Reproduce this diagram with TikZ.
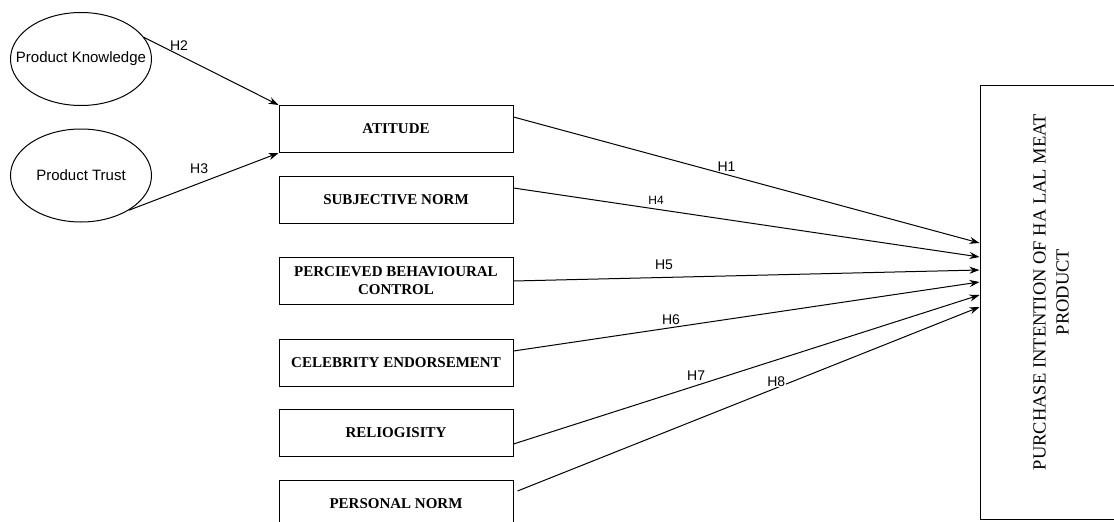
\documentclass[tikz,border=0pt]{standalone}
\usepackage{fontspec}
\setmainfont{Liberation Serif}
\setsansfont{Liberation Sans}
\usetikzlibrary{arrows.meta,calc,shapes.geometric}
\begin{document}
\begin{tikzpicture}[x=1pt,y=-1pt,
  latent/.style={draw, ellipse, line width=1pt, minimum width=141pt, minimum height=93pt, inner sep=0pt},
  latentname/.style={font=\sffamily\fontsize{15}{17}\selectfont, inner sep=0pt},
  factor/.style={draw, line width=1pt, minimum width=234pt, minimum height=47pt, inner sep=1pt, align=center, font=\fontsize{15}{18}\selectfont\bfseries},
  link/.style={line width=1pt, -{Stealth[length=10pt,width=7pt]}},
  hyp/.style={font=\sffamily\fontsize{14}{16}\selectfont, inner sep=1pt}]
\useasboundingbox (0,0) rectangle (1114,522);

\node[latent, label={[latentname]center:Product Knowledge}] (pk) at (81,59) {};
\node[latent, label={[latentname]center:Product Trust}] (pt) at (81,175.5) {};

\node[factor] (att) at (396,129) {ATITUDE};
\node[factor] (sn) at (396,199.5) {SUBJECTIVE NORM};
\node[factor] (pbc) at (396,281) {PERCIEVED BEHAVIOURAL\\CONTROL};
\node[factor] (ce) at (396,362.5) {CELEBRITY ENDORSEMENT};
\node[factor] (rel) at (396,432.5) {RELIOGISITY};
\node[factor] (pn) at (396,503.5) {PERSONAL NORM};

\node[draw, line width=1pt, minimum width=160pt, minimum height=434pt] (pi) at (1060,302) {};
\node[rotate=90, align=center, font=\fontsize{18.5}{23}\selectfont] (pitext) at (1051,292)
  {PURCHASE INTENTION OF HA LAL MEAT\\PRODUCT};

\draw[link] (pk.19) -- node[hyp, pos=.26, above=3pt] {H2} (att.north west);
\draw[link] (pt.-36) -- node[hyp, pos=.47, above=8pt] {H3} (att.south west);

\draw[link] ($(att.east)+(0,-12)$) -- node[hyp, pos=.457, above=2pt] {H1} ($(pi.west)+(0,-59)$);
\draw[link] ($(sn.east)+(0,-11.5)$) -- node[hyp, pos=.306, above=3pt, font=\sffamily\fontsize{12}{14}\selectfont] {H4} ($(pi.west)+(0,-45)$);
\draw[link] (pbc.east) -- node[hyp, pos=.323, above=6pt] {H5} ($(pi.west)+(0,-32)$);
\draw[link] ($(ce.east)+(0,-11.5)$) -- node[hyp, pos=.338, above=2pt] {H6} ($(pi.west)+(0,-20)$);
\draw[link] ($(rel.east)+(0,11.5)$) -- node[hyp, pos=.392, above=4pt] {H7} ($(pi.west)+(0,-7)$);
\draw[link] ($(pn.east)+(4,-12.5)$) -- node[hyp, pos=.56, above=0pt, fill=white] {H8} ($(pi.west)+(0,5)$);
\end{tikzpicture}
\end{document}
